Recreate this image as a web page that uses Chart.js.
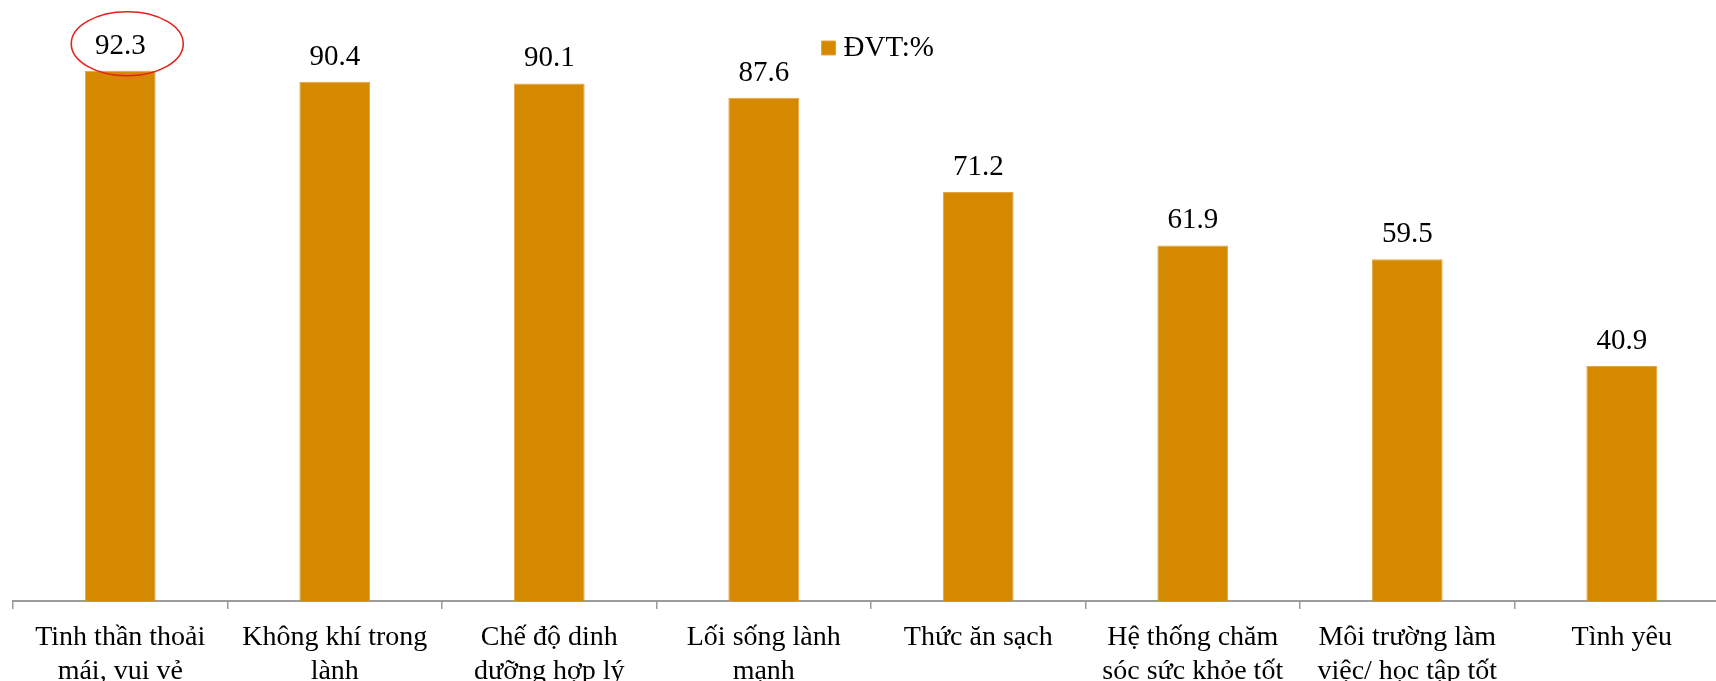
<!DOCTYPE html>
<html lang="vi">
<head>
<meta charset="utf-8">
<title>Yếu tố ảnh hưởng đến sức khỏe</title>
<script src="https://cdn.jsdelivr.net/npm/chart.js@4/dist/chart.umd.min.js"></script>
<style>
  html, body { margin: 0; padding: 0; background: #ffffff; overflow: hidden; }
  #wrap { width: 1716px; height: 681px; overflow: hidden; position: relative; }
  canvas { display: block; }
</style>
</head>
<body>
<div id="wrap">
  <canvas id="chart" width="1760" height="681"></canvas>
</div>
<script>
// Categories (each entry is the lines of one axis label)
const categories = [
  ["Tinh thần thoải", "mái, vui vẻ"],
  ["Không khí trong", "lành"],
  ["Chế độ dinh", "dưỡng hợp lý"],
  ["Lối sống lành", "mạnh"],
  ["Thức ăn sạch"],
  ["Hệ thống chăm", "sóc sức khỏe tốt"],
  ["Môi trường làm", "việc/ học tập tốt"],
  ["Tình yêu"]
];

// Share of respondents per factor, in percent
const values = [92.3, 90.4, 90.1, 87.6, 71.2, 61.9, 59.5, 40.9];

const seriesName = "ĐVT:%";
const highlightIndex = 0;   // value circled in red

const SERIF = '"Liberation Serif", "Times New Roman", Times, serif';
const BAR_COLOR = '#D48900';

// Writes each bar's value above it and rings the highlighted one
const valueLabels = {
  id: 'valueLabels',
  afterDatasetsDraw(chart) {
    const ctx = chart.ctx;
    const meta = chart.getDatasetMeta(0);
    const data = chart.data.datasets[0].data;
    ctx.save();
    ctx.font = '29px ' + SERIF;
    ctx.fillStyle = '#000000';
    ctx.textAlign = 'center';
    ctx.textBaseline = 'alphabetic';
    meta.data.forEach((bar, i) => {
      ctx.fillText(data[i].toFixed(1), bar.x, bar.y - 17);
    });
    const hb = meta.data[highlightIndex];
    if (hb) {
      ctx.beginPath();
      ctx.ellipse(hb.x + 7, hb.y - 27, 56, 32, 0, 0, Math.PI * 2);
      ctx.strokeStyle = '#E8201C';
      ctx.lineWidth = 1.6;
      ctx.stroke();
    }
    ctx.restore();
  }
};

new Chart(document.getElementById('chart'), {
  type: 'bar',
  data: {
    labels: categories,
    datasets: [{
      label: seriesName,
      data: values,
      backgroundColor: BAR_COLOR,
      borderColor: '#E3A43F',
      borderWidth: 1,
      categoryPercentage: 1,
      barPercentage: 0.33,
      clip: false
    }]
  },
  options: {
    responsive: false,
    animation: false,
    layout: { padding: { left: 13, right: 11, top: 10, bottom: 0 } },
    plugins: {
      legend: {
        position: 'top',
        align: 'center',
        labels: {
          color: '#000000',
          font: { family: SERIF, size: 29 },
          usePointStyle: true,
          pointStyle: 'rect',
          boxWidth: 1,
          boxHeight: 14,
          padding: 23.5
        }
      },
      tooltip: { enabled: false }
    },
    scales: {
      x: {
        position: 'bottom',
        offset: true,
        grid: {
          display: true,
          offset: true,
          drawOnChartArea: false,
          drawTicks: true,
          tickLength: 8,
          color: '#999999',
          lineWidth: 1.5
        },
        border: { display: true, color: '#9C9C9C', width: 2 },
        ticks: {
          color: '#000000',
          font: { family: SERIF, size: 28, lineHeight: 1.2 },
          padding: 12,
          maxRotation: 0,
          minRotation: 0,
          autoSkip: false
        },
        afterFit(scale) { scale.height = 80; }
      },
      y: {
        position: 'right',
        min: 0,
        max: 92,
        display: true,
        grid: { display: false },
        border: { display: false },
        ticks: { display: false },
        afterFit(scale) { scale.width = 20; }
      }
    }
  },
  plugins: [valueLabels]
});
</script>
</body>
</html>
